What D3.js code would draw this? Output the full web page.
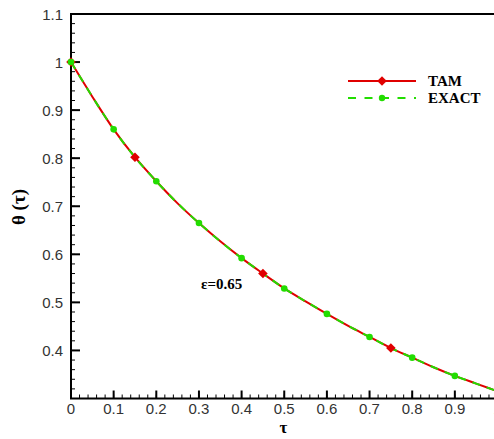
<!DOCTYPE html>
<html><head><meta charset="utf-8">
<script src="https://cdn.jsdelivr.net/npm/d3@7"></script>
<style>body{margin:0;background:#fff;overflow:hidden}</style>
</head><body>
<script>
const tau = [0,0.05,0.1,0.15,0.2,0.25,0.3,0.35,0.4,0.45,0.5,0.55,0.6,0.65,0.7,0.75,0.8,0.85,0.9,0.95,1.0];
const thetaTAM   = [1.0,0.928,0.860,0.802,0.752,0.706,0.665,0.627,0.592,0.560,0.529,0.502,0.476,0.451,0.428,0.405,0.385,0.365,0.347,0.331,0.315];
const thetaExact = [1.0,0.928,0.860,0.802,0.752,0.706,0.665,0.627,0.592,0.560,0.529,0.502,0.476,0.451,0.428,0.405,0.385,0.365,0.347,0.331,0.315];
const tamMarkerTau = [0,0.15,0.45,0.75];
const exactMarkerTau = [0,0.1,0.2,0.3,0.4,0.5,0.6,0.7,0.8,0.9];
const xTicks = [0,0.1,0.2,0.3,0.4,0.5,0.6,0.7,0.8,0.9,1];
const yTicks = [0.4,0.5,0.6,0.7,0.8,0.9,1,1.1];
const seriesNames = ["TAM","EXACT"];
const annotation = "ε=0.65";

const W=494,H=439;
const svg=d3.select("body").append("svg").attr("width",W).attr("height",H);
const x=d3.scaleLinear().domain([0,1]).range([71,497.5]);
const y=d3.scaleLinear().domain([0.3,1.1]).range([398.5,14]);

svg.append("rect").attr("x",x(0)).attr("y",y(1.1)).attr("width",x(1)-x(0)).attr("height",y(0.3)-y(1.1))
  .attr("fill","none").attr("stroke","#000").attr("stroke-width",2);

const minorX=d3.range(0,1.0001,0.02), minorY=d3.range(0.3,1.1001,0.02);
const g=svg.append("g").attr("stroke","#000");
minorX.forEach(v=>g.append("line").attr("x1",x(v)).attr("x2",x(v)).attr("y1",y(0.3)).attr("y2",y(0.3)-4).attr("stroke-width",1));
minorY.forEach(v=>g.append("line").attr("y1",y(v)).attr("y2",y(v)).attr("x1",x(0)).attr("x2",x(0)+4).attr("stroke-width",1));
xTicks.forEach(v=>g.append("line").attr("x1",x(v)).attr("x2",x(v)).attr("y1",y(0.3)).attr("y2",y(0.3)-8).attr("stroke-width",2));
yTicks.forEach(v=>g.append("line").attr("y1",y(v)).attr("y2",y(v)).attr("x1",x(0)).attr("x2",x(0)+9).attr("stroke-width",2));

const lf="'Liberation Sans',Arial,sans-serif";
xTicks.forEach(v=>svg.append("text").attr("x",x(v)).attr("y",414).attr("text-anchor","middle")
  .attr("font-family",lf).attr("font-size",15).attr("fill","#333").text(d3.format("")(v)));
yTicks.forEach(v=>svg.append("text").attr("x",x(0)-8).attr("y",y(v)+5.5).attr("text-anchor","end")
  .attr("font-family",lf).attr("font-size",15).attr("fill","#333").text(d3.format("")(v)));

const sf="'Liberation Serif','Times New Roman',serif";
svg.append("text").attr("transform","translate(25,207) rotate(-90)").attr("text-anchor","middle")
  .attr("font-family",sf).attr("font-weight","bold").attr("font-size",19).text("θ (τ)");
svg.append("text").attr("x",283.5).attr("y",433).attr("text-anchor","middle")
  .attr("font-family",sf).attr("font-weight","bold").attr("font-size",17).text("τ");

const line=d3.line().x(d=>x(d[0])).y(d=>y(d[1])).curve(d3.curveMonotoneX);
const tamData=tau.map((t,i)=>[t,thetaTAM[i]]);
const exData=tau.map((t,i)=>[t,thetaExact[i]]);
svg.append("path").attr("d",line(tamData)).attr("fill","none").attr("stroke","#e00000").attr("stroke-width",2);
svg.append("path").attr("d",line(exData)).attr("fill","none").attr("stroke","#22dd00").attr("stroke-width",2).attr("stroke-dasharray","8,7");

const valAt=(arr,t)=>arr[tau.findIndex(v=>Math.abs(v-t)<1e-9)];
const diamondPath="M0,-4.8L4.8,0L0,4.8L-4.8,0Z";
tamMarkerTau.forEach(t=>svg.append("path").attr("d",diamondPath).attr("transform",`translate(${x(t)},${y(valAt(thetaTAM,t))})`).attr("fill","#e00000"));
exactMarkerTau.forEach(t=>svg.append("circle").attr("cx",x(t)).attr("cy",y(valAt(thetaExact,t))).attr("r",3.3).attr("fill","#22dd00"));

svg.append("line").attr("x1",348).attr("x2",416).attr("y1",81).attr("y2",81).attr("stroke","#e00000").attr("stroke-width",2);
svg.append("path").attr("d",diamondPath).attr("transform","translate(382,81)").attr("fill","#e00000");
svg.append("line").attr("x1",348).attr("x2",416).attr("y1",98).attr("y2",98).attr("stroke","#22dd00").attr("stroke-width",2).attr("stroke-dasharray","8,8.5");
svg.append("circle").attr("cx",382).attr("cy",98).attr("r",3.2).attr("fill","#22dd00");
svg.append("text").attr("x",428).attr("y",86).attr("font-family",sf).attr("font-weight","bold").attr("font-size",15).text(seriesNames[0]);
svg.append("text").attr("x",428).attr("y",103).attr("font-family",sf).attr("font-weight","bold").attr("font-size",15).text(seriesNames[1]);

svg.append("text").attr("x",201).attr("y",289).attr("font-family",sf).attr("font-weight","bold").attr("font-size",15).text(annotation);
</script>
</body></html>
